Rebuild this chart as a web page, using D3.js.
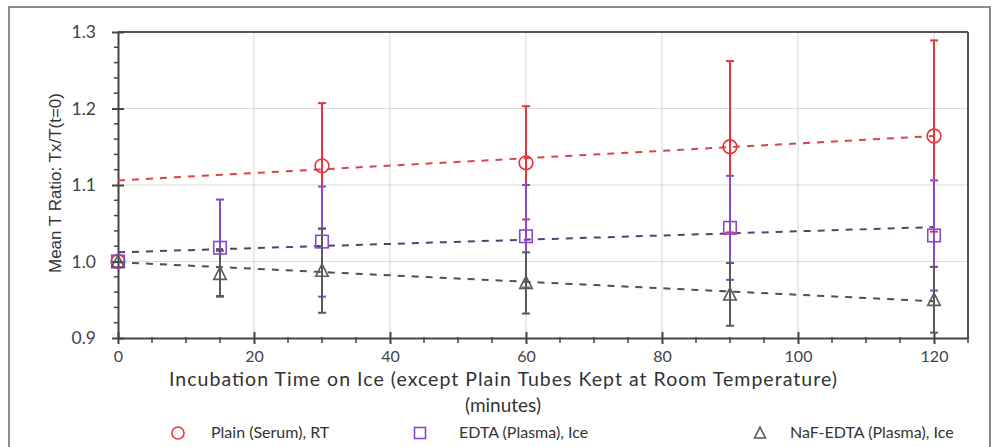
<!DOCTYPE html>
<html>
<head>
<meta charset="utf-8">
<script src="https://cdn.jsdelivr.net/npm/d3@7"></script>
<style>
  html, body { margin: 0; padding: 0; background: #fff; }
  svg { display: block; }
</style>
</head>
<body>
<svg id="chart" width="1000" height="447"></svg>
<script>
// ---- data ----
const xTickValues = [0, 20, 40, 60, 80, 100, 120];
const yTickValues = [0.9, 1.0, 1.1, 1.2, 1.3];

const plainTimes = [0, 30, 60, 90, 120];
const plainMean  = [1.000, 1.125, 1.129, 1.150, 1.164];
const plainErr   = [0, 0.082, 0.074, 0.112, 0.125];

const edtaTimes = [0, 15, 30, 60, 90, 120];
const edtaMean  = [1.000, 1.018, 1.026, 1.033, 1.044, 1.034];
const edtaErr   = [0, 0.063, 0.072, 0.067, 0.068, 0.072];

const nafTimes = [0, 15, 30, 60, 90, 120];
const nafMean  = [1.000, 0.984, 0.988, 0.972, 0.957, 0.950];
const nafErr   = [0, 0.030, 0.055, 0.040, 0.041, 0.043];

const trendTimes = [0, 120];
const plainTrend = [1.106, 1.164];
const edtaTrend  = [1.012, 1.045];
const nafTrend   = [0.999, 0.948];

const seriesNames = ["Plain (Serum), RT", "EDTA (Plasma), Ice", "NaF-EDTA (Plasma), Ice"];

// ---- layout ----
const svg = d3.select("#chart");
const L = 118, R = 968, T = 32, B = 338;
const x = d3.scaleLinear().domain([0, 125]).range([L, R]);
const y = d3.scaleLinear().domain([0.9, 1.3]).range([B, T]);

const series = [
  { name: seriesNames[0], t: plainTimes, m: plainMean, e: plainErr, trend: plainTrend,
    color: "#e8343c", trendColor: "#d9444a", shape: "circle" },
  { name: seriesNames[1], t: edtaTimes, m: edtaMean, e: edtaErr, trend: edtaTrend,
    color: "#8a48d0", trendColor: "#4e4470", shape: "square" },
  { name: seriesNames[2], t: nafTimes, m: nafMean, e: nafErr, trend: nafTrend,
    color: "#5a5a5a", trendColor: "#505050", shape: "triangle" }
];

// outer frame
svg.append("rect").attr("x", 9).attr("y", 7).attr("width", 981).attr("height", 460)
  .attr("fill", "none").attr("stroke", "#8c8c8c").attr("stroke-width", 2);

// gridlines
const grid = svg.append("g");
grid.selectAll("line.vg").data(xTickValues.filter(d => d > 0)).join("line")
  .attr("x1", d => x(d)).attr("x2", d => x(d)).attr("y1", T).attr("y2", B)
  .attr("stroke", "#dcdcdc").attr("stroke-width", 1.2);
grid.selectAll("line.hg").data(yTickValues.filter(d => d > 0.95 && d < 1.25)).join("line")
  .attr("x1", L).attr("x2", R).attr("y1", d => y(d)).attr("y2", d => y(d))
  .attr("stroke", "#dcdcdc").attr("stroke-width", 1.2);

// plot frame top/right
svg.append("line").attr("x1", L).attr("x2", R).attr("y1", T).attr("y2", T)
  .attr("stroke", "#555").attr("stroke-width", 2);
svg.append("line").attr("x1", R).attr("x2", R).attr("y1", T).attr("y2", B)
  .attr("stroke", "#555").attr("stroke-width", 2);

// axes
const font = "Lato, 'Liberation Sans', sans-serif";
const yAxis = d3.axisLeft(y).tickValues(yTickValues).tickFormat(d3.format(".1f"))
  .tickSizeInner(6).tickSizeOuter(0).tickPadding(16);
const gy = svg.append("g").attr("transform", `translate(${L},0)`).call(yAxis);
gy.select(".domain").attr("stroke", "#444").attr("stroke-width", 2);
gy.selectAll(".tick line").attr("stroke", "#444").attr("stroke-width", 2).attr("x2", 6).attr("x1", -6);
gy.selectAll(".tick text").attr("font-family", font).attr("font-size", 17.5).attr("fill", "#444");
// y minor ticks
const yMinor = d3.range(0, 21).map(i => 0.9 + i * 0.02).filter((d, i) => i % 5 !== 0);
svg.append("g").selectAll("line").data(yMinor).join("line")
  .attr("x1", L - 4).attr("x2", L + 1).attr("y1", d => y(d)).attr("y2", d => y(d))
  .attr("stroke", "#444").attr("stroke-width", 1.5);

const xAxis = d3.axisBottom(x).tickValues(xTickValues).tickFormat(d3.format("d"))
  .tickSizeInner(6).tickSizeOuter(0).tickPadding(7);
const gx = svg.append("g").attr("transform", `translate(0,${B})`).call(xAxis);
gx.select(".domain").attr("stroke", "#444").attr("stroke-width", 2);
gx.selectAll(".tick line").attr("stroke", "#444").attr("stroke-width", 2).attr("y1", -6).attr("y2", 6);
gx.selectAll(".tick text").attr("font-family", font).attr("font-size", 16).attr("fill", "#444");
const xMinor = d3.range(0, 26).map(i => i * 5).filter(d => d % 20 !== 0);
svg.append("g").selectAll("line").data(xMinor).join("line")
  .attr("x1", d => x(d)).attr("x2", d => x(d)).attr("y1", B - 1).attr("y2", B + 5)
  .attr("stroke", "#444").attr("stroke-width", 1.5);

// trend lines
const line = d3.line().x(d => x(d[0])).y(d => y(d[1]));
series.forEach(s => {
  svg.append("path").datum(trendTimes.map((t, i) => [t, s.trend[i]]))
    .attr("d", line).attr("fill", "none").attr("stroke", s.trendColor)
    .attr("stroke-width", 2).attr("stroke-dasharray", "7,7");
});

// error bars + markers
function drawMarker(g, shape, cx, cy, color, size) {
  if (shape === "circle") {
    g.append("circle").attr("cx", cx).attr("cy", cy).attr("r", size * 0.55)
      .attr("fill", "none").attr("stroke", color).attr("stroke-width", 1.6);
  } else if (shape === "square") {
    g.append("rect").attr("x", cx - size / 2).attr("y", cy - size / 2)
      .attr("width", size).attr("height", size)
      .attr("fill", "none").attr("stroke", color).attr("stroke-width", 1.6);
  } else {
    const h = size * 0.9;
    g.append("path").attr("d", `M${cx},${cy - h / 2 - 1}L${cx + size / 2},${cy + h / 2}L${cx - size / 2},${cy + h / 2}Z`)
      .attr("fill", "none").attr("stroke", color).attr("stroke-width", 1.6);
  }
}

series.forEach(s => {
  const g = svg.append("g");
  s.t.forEach((t, i) => {
    const e = s.e[i];
    if (e > 0) {
      const cx = x(t);
      g.append("line").attr("x1", cx).attr("x2", cx)
        .attr("y1", y(s.m[i] - e)).attr("y2", y(s.m[i] + e))
        .attr("stroke", s.color).attr("stroke-width", 2);
      [s.m[i] - e, s.m[i] + e].forEach(v => {
        g.append("line").attr("x1", cx - 4).attr("x2", cx + 4)
          .attr("y1", y(v)).attr("y2", y(v))
          .attr("stroke", s.color).attr("stroke-width", 2);
      });
    }
  });
});
series.forEach(s => {
  const g = svg.append("g");
  s.t.forEach((t, i) => drawMarker(g, s.shape, x(t), y(s.m[i]), s.color, 12.5));
});

// axis titles
svg.append("text").attr("x", 503).attr("y", 386).attr("text-anchor", "middle")
  .attr("font-family", font).attr("font-size", 19.5).attr("fill", "#333")
  .attr("textLength", 668).attr("lengthAdjust", "spacing")
  .text("Incubation Time on Ice (except Plain Tubes Kept at Room Temperature)");
svg.append("text").attr("x", 503).attr("y", 412).attr("text-anchor", "middle")
  .attr("font-family", font).attr("font-size", 19).attr("fill", "#333")
  .text("(minutes)");
svg.append("text").attr("transform", "translate(61,183) rotate(-90)").attr("text-anchor", "middle")
  .attr("font-family", "'Liberation Sans', Arial, sans-serif").attr("font-size", 17).attr("fill", "#333")
  .text("Mean T Ratio: Tx/T(t=0)");

// legend
const legendX = [178, 420, 760];
const legendTextX = [211, 459, 790];
series.forEach((s, i) => {
  const g = svg.append("g");
  drawMarker(g, s.shape, legendX[i], 433, s.color, 11);
  g.append("text").attr("x", legendTextX[i]).attr("y", 438)
    .attr("font-family", font).attr("font-size", 16).attr("fill", "#333").text(s.name);
});
</script>
</body>
</html>
